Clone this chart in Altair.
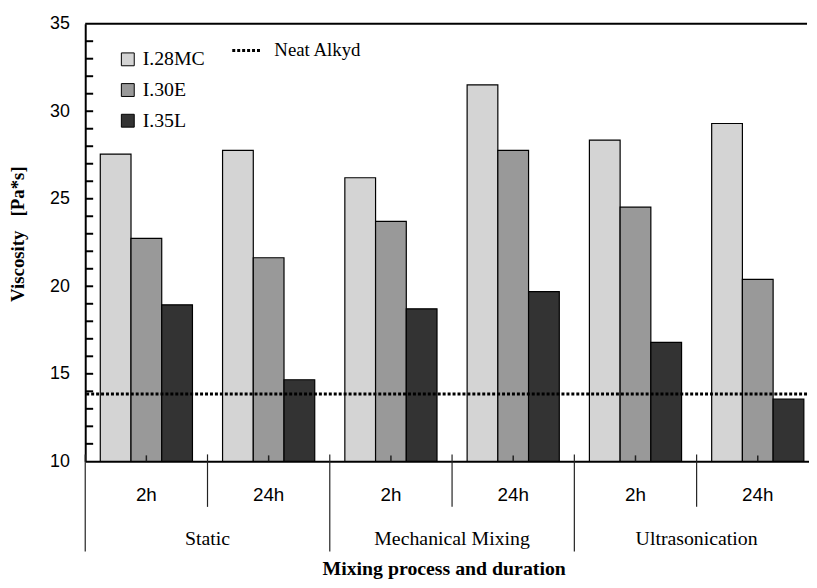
import altair as alt
import pandas as pd

processes = ["Static", "Mechanical Mixing", "Ultrasonication"]
durations = ["2h", "24h"]
series = ["I.28MC", "I.30E", "I.35L"]
v_28mc = [27.55, 27.76, 26.2, 31.5, 28.35, 29.3]
v_30e = [22.74, 21.63, 23.71, 27.76, 24.52, 20.39]
v_35l = [18.94, 14.66, 18.71, 19.69, 16.8, 13.55]
neat_alkyd = 13.85
y_major_ticks = [10, 15, 20, 25, 30, 35]
y_minor_ticks = [11, 12, 13, 14, 15, 16, 17, 18, 19, 20, 21, 22, 23, 24,
                 25, 26, 27, 28, 29, 30, 31, 32, 33, 34]
bar_colors = ["#d4d4d4", "#999999", "#333333"]

groups = [f"{p}|{d}" for p in processes for d in durations]
rows = []
for s, vals in zip(series, [v_28mc, v_30e, v_35l]):
    for g, v in zip(groups, vals):
        rows.append({"grp": g, "series": s, "value": v, "base": 10})
df = pd.DataFrame(rows)

W, H = 729, 442

x_scale = alt.Scale(domain=groups, range=[0, 741], paddingInner=0, paddingOuter=0)
y_scale = alt.Scale(domain=[10, 35], nice=False, zero=False)

x_axis = alt.Axis(
    title="Mixing process and duration",
    labelExpr="split(datum.value, '|')[1]",
    ticks=False, tickSize=0, grid=False,
    domainColor="black", domainWidth=2,
    labelFont="Liberation Sans", labelFontSize=19, labelColor="black",
    labelPadding=25, labelAngle=0,
    titleFont="Liberation Serif", titleFontSize=20, titleFontWeight="bold",
    titleColor="black", titleX=362, titleY=114, titleBaseline="alphabetic",
    titleAlign="center",
)
y_axis = alt.Axis(
    title="Viscosity\u00a0\u00a0\u00a0[Pa*s]",
    values=y_major_ticks,
    ticks=False, tickSize=0, grid=False,
    domainColor="black", domainWidth=2,
    labelFont="Liberation Sans", labelFontSize=18, labelColor="black",
    labelPadding=16,
    titleFont="Liberation Serif", titleFontSize=19, titleFontWeight="bold",
    titleColor="black", titleX=-68, titleY=212, titleBaseline="middle",
    titleAlign="center", titleAngle=-90,
)

bars = alt.Chart(df).mark_bar(stroke="black", strokeWidth=1.2).encode(
    x=alt.X("grp:N", scale=x_scale, axis=x_axis),
    xOffset=alt.XOffset("series:N", scale=alt.Scale(domain=series, paddingInner=0, paddingOuter=0.49)),
    y=alt.Y("value:Q", scale=y_scale, axis=y_axis),
    y2=alt.Y2("base:Q"),
    color=alt.Color(
        "series:N",
        scale=alt.Scale(domain=series, range=bar_colors),
        legend=alt.Legend(
            orient="none", legendX=33, legendY=26, title=None,
            symbolType="square", symbolSize=169, symbolStrokeColor="black",
            symbolStrokeWidth=1, symbolOpacity=1,
            labelFont="Liberation Serif", labelFontSize=20, labelColor="black",
            labelOffset=5, rowPadding=11, padding=0,
        ),
    ),
)

neat_df = pd.DataFrame({"name": ["Neat Alkyd"], "v": [neat_alkyd]})
neat = alt.Chart(neat_df).mark_rule(strokeWidth=3, color="black").encode(
    y=alt.Y("v:Q", scale=y_scale, axis=y_axis),
    strokeDash=alt.StrokeDash(
        "name:N",
        scale=alt.Scale(domain=["Neat Alkyd"], range=[[3, 2]]),
        legend=alt.Legend(
            orient="none", legendX=147, legendY=11, title=None,
            symbolType="stroke", symbolSize=841, symbolStrokeWidth=3,
            symbolStrokeColor="black",
            labelFont="Liberation Serif", labelFontSize=19, labelColor="black",
            labelOffset=12, padding=0,
        ),
    ),
)

top_df = pd.DataFrame({"v": [35]})
top_line = alt.Chart(top_df).mark_rule(strokeWidth=2, color="black").encode(
    y=alt.Y("v:Q", scale=y_scale, axis=y_axis)
)

tick_df = pd.DataFrame({"t": y_minor_ticks})
y_ticks = alt.Chart(tick_df).mark_rule(strokeWidth=2, color="black").encode(
    y=alt.Y("t:Q", scale=y_scale, axis=y_axis),
    x=alt.value(0), x2=alt.value(8),
)

long_sep = alt.Chart(pd.DataFrame({"grp": groups[0::2]})).mark_rule(
    color="#222222", strokeWidth=1.2
).encode(
    x=alt.X("grp:N", scale=x_scale, axis=x_axis, bandPosition=0),
    y=alt.value(H - 7), y2=alt.value(H + 91),
)
short_sep = alt.Chart(pd.DataFrame({"grp": groups[1::2]})).mark_rule(
    color="#222222", strokeWidth=1.2
).encode(
    x=alt.X("grp:N", scale=x_scale, axis=x_axis, bandPosition=0),
    y=alt.value(H - 7), y2=alt.value(H + 46),
)
center_ticks = alt.Chart(pd.DataFrame({"grp": groups})).mark_rule(
    color="#222222", strokeWidth=1.5
).encode(
    x=alt.X("grp:N", scale=x_scale, axis=x_axis, bandPosition=0.5),
    y=alt.value(H - 6), y2=alt.value(H),
)
proc_labels = alt.Chart(
    pd.DataFrame({"grp": groups[1::2], "process": processes})
).mark_text(
    font="Liberation Serif", fontSize=20, color="black", baseline="alphabetic"
).encode(
    x=alt.X("grp:N", scale=x_scale, axis=x_axis, bandPosition=0),
    y=alt.value(H + 85),
    text="process:N",
)

chart = alt.layer(
    bars, neat, top_line, y_ticks, long_sep, short_sep, center_ticks, proc_labels
).properties(
    width=W, height=H,
    autosize=alt.AutoSizeParams(type="none"),
    padding={"left": 78, "top": 13, "right": 2, "bottom": 117},
    background="white",
).configure_view(stroke=None)

chart.save("out.html", embed_options={"renderer": "svg", "actions": False})
